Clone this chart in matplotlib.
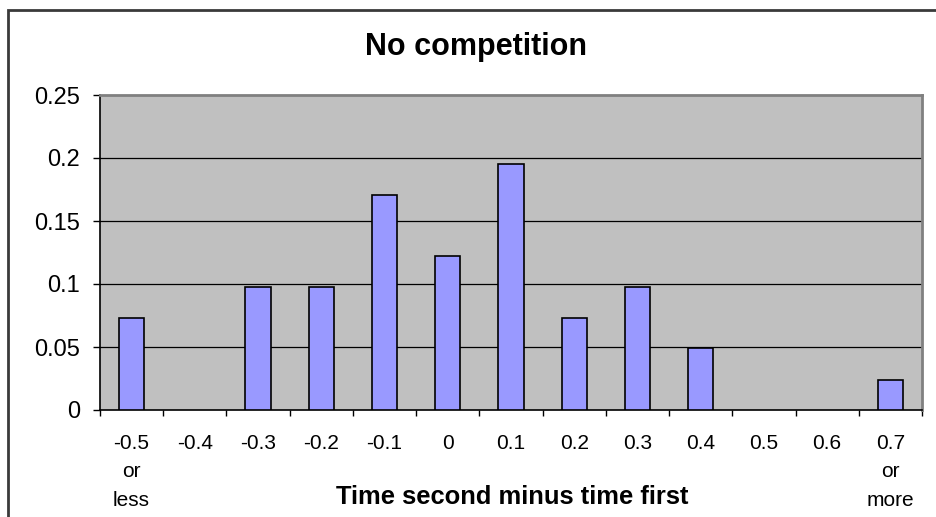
import numpy as np
import matplotlib.pyplot as plt
from matplotlib.patches import Rectangle

plt.rcParams['font.family'] = ['Liberation Sans', 'DejaVu Sans']

# Data (relative frequencies)
categories = ["-0.5\nor\nless", "-0.4", "-0.3", "-0.2", "-0.1", "0", "0.1",
              "0.2", "0.3", "0.4", "0.5", "0.6", "0.7\nor\nmore"]
values = [0.073, 0.0, 0.098, 0.098, 0.171, 0.122, 0.195,
          0.073, 0.098, 0.049, 0.0, 0.0, 0.024]
y_ticks = [0, 0.05, 0.1, 0.15, 0.2, 0.25]
y_ticklabels = ["0", "0.05", "0.1", "0.15", "0.2", "0.25"]

W, H = 937, 517
fig = plt.figure(figsize=(W / 100, H / 100), dpi=100)

# outer chart border (cropped on right and bottom)
fig.patches.append(Rectangle((8 / W, -0.1), 1.2, (H - 10) / H + 0.1,
                             transform=fig.transFigure, fill=False,
                             edgecolor='#3a3a3a', linewidth=2))

left, right, top, bottom = 100, 922, 95, 410
ax = fig.add_axes([left / W, 1 - bottom / H, (right - left) / W, (bottom - top) / H])
ax.set_facecolor('#C0C0C0')

x = np.arange(len(categories))
vals = np.asarray(values)
# empty bins get no outline (Excel draws nothing there)
lw = np.where(vals > 0, 1.2, 0.0)
ax.bar(x, vals, width=0.4, color='#9999FF', edgecolor='black', linewidth=lw, zorder=3)

ax.set_xlim(-0.5, len(categories) - 0.5)
ax.set_ylim(0, 0.25)

# horizontal gridlines
for yt in y_ticks[1:-1]:
    ax.axhline(yt, color='black', linewidth=0.9, zorder=1)

ax.set_yticks(y_ticks)
ax.set_yticklabels(y_ticklabels, fontsize=17)
ax.tick_params(axis='y', direction='out', length=5, width=1, pad=9.5, color='black')

# x ticks between categories, labels at the centres
ax.set_xticks(x)
ax.set_xticklabels(categories, fontsize=15, linespacing=1.65, va='top')
ax.set_xticks(np.arange(len(categories) + 1) - 0.5, minor=True)
ax.tick_params(axis='x', which='major', length=0, pad=17)
ax.tick_params(axis='x', which='minor', direction='out', length=4, width=1, color='black')

for s in ['left', 'bottom']:
    ax.spines[s].set_color('black')
    ax.spines[s].set_linewidth(1.2)
for s in ['top', 'right']:
    ax.spines[s].set_color('#808080')
    ax.spines[s].set_linewidth(2)

fig.text(476 / W, 1 - 47 / H, "No competition", ha='center', va='center',
         fontsize=22, fontweight='bold')
fig.text(512 / W, 1 - 497 / H, "Time second minus time first", ha='center', va='center',
         fontsize=18.4, fontweight='bold')

fig.savefig('out.png', dpi=100)
